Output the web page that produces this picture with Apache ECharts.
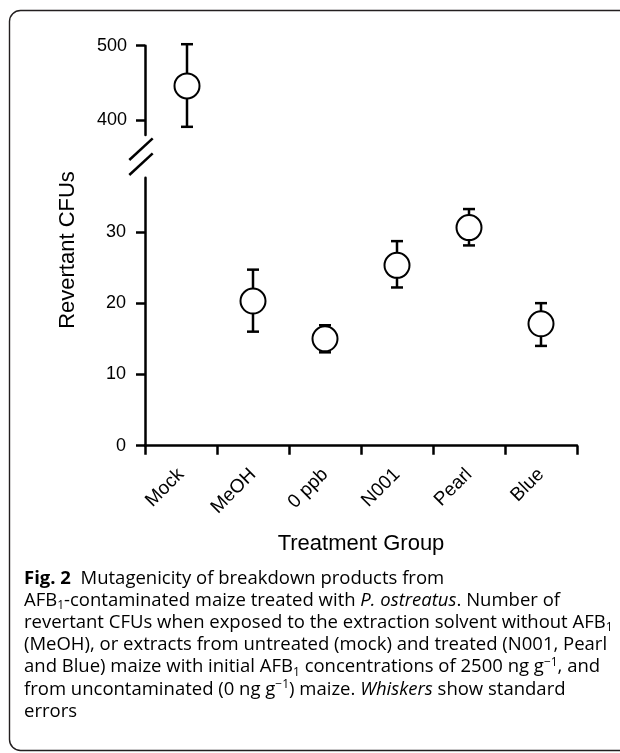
<!DOCTYPE html>
<html>
<head>
<meta charset="utf-8">
<script src="https://cdn.jsdelivr.net/npm/echarts@6/dist/echarts.min.js"></script>
<style>
html,body{margin:0;padding:0;background:#fff;}
#chart{width:620px;height:753px;}
</style>
</head>
<body>
<div id="chart"></div>
<script>
// ---- data ----
var categories = ['Mock', 'MeOH', '0 ppb', 'N001', 'Pearl', 'Blue'];
var means      = [446, 20.3, 15.0, 25.3, 30.6, 17.1];
var whiskerLow = [391, 16.0, 13.1, 22.2, 28.1, 14.0];
var whiskerHigh= [502, 24.7, 16.9, 28.7, 33.2, 20.0];
var lowerTicks = [0, 10, 20, 30];
var upperTicks = [400, 500];
var lowerMax = 37.6;
var upperMin = 380, upperMax = 500;

function panelData(isUpper) {
  return categories.map(function (c, i) {
    var inUpper = means[i] > lowerMax;
    return (inUpper === isUpper) ? [i, means[i]] : [i, '-'];
  });
}
function barData(isUpper) {
  return categories.map(function (c, i) {
    var inUpper = means[i] > lowerMax;
    return (inUpper === isUpper) ? [i, whiskerLow[i], whiskerHigh[i]] : [i, '-', '-'];
  });
}

var AX = '"Liberation Sans", Arial, sans-serif';
var CAP = '"Open Sans", "Noto Sans", sans-serif';

function renderBar(params, api) {
  var lo = api.value(1), hi = api.value(2);
  if (isNaN(lo) || isNaN(hi)) return;
  var p1 = api.coord([api.value(0), lo]);
  var p2 = api.coord([api.value(0), hi]);
  var hw = 6;
  var st = { stroke: '#000', lineWidth: 2.5 };
  return {
    type: 'group',
    children: [
      { type: 'line', shape: { x1: p1[0], y1: p1[1], x2: p2[0], y2: p2[1] }, style: st },
      { type: 'line', shape: { x1: p1[0] - hw, y1: p1[1], x2: p1[0] + hw, y2: p1[1] }, style: st },
      { type: 'line', shape: { x1: p2[0] - hw, y1: p2[1], x2: p2[0] + hw, y2: p2[1] }, style: st }
    ]
  };
}

var axisLineStyle = { color: '#000', width: 2.5 };

var FS = 18.5;
var capStyles = {
  n: { fontFamily: CAP, fontSize: FS, color: '#231f20', lineHeight: 22 },
  b: { fontFamily: CAP, fontSize: FS, color: '#231f20', lineHeight: 22, fontWeight: 'bold' },
  i: { fontFamily: CAP, fontSize: FS, color: '#231f20', lineHeight: 22, fontStyle: 'italic' },
  sub: { fontFamily: CAP, fontSize: 12, color: '#231f20', lineHeight: 11, verticalAlign: 'bottom' },
  sup: { fontFamily: CAP, fontSize: 12, color: '#231f20', lineHeight: 11, verticalAlign: 'top' }
};
var captionLines = [
  '{b|Fig. 2}{n|  Mutagenicity of breakdown products from}',
  '{n|AFB}{sub|1}{n|-contaminated maize treated with }{i|P. ostreatus}{n|. Number of}',
  '{n|revertant CFUs when exposed to the extraction solvent without AFB}{sub|1}',
  '{n|(MeOH), or extracts from untreated (mock) and treated (N001, Pearl}',
  '{n|and Blue) maize with initial AFB}{sub|1}{n| concentrations of 2500 ng g}{sup|\u22121}{n|, and}',
  '{n|from uncontaminated (0 ng g}{sup|\u22121}{n|) maize. }{i|Whiskers}{n| show standard}',
  '{n|errors}'
];

var graphics = [
  { type: 'rect', shape: { x: 9.5, y: 10.5, width: 720, height: 740, r: 11 },
    style: { fill: 'none', stroke: '#231f20', lineWidth: 1.4 }, z: 0 },
  { type: 'line', shape: { x1: 129.3, y1: 160, x2: 152.7, y2: 138.3 }, style: { stroke: '#000', lineWidth: 2.5 } },
  { type: 'line', shape: { x1: 129.3, y1: 175, x2: 152.7, y2: 153.3 }, style: { stroke: '#000', lineWidth: 2.5 } },
  { type: 'text', x: 67.5, y: 250, rotation: Math.PI / 2,
    style: { text: 'Revertant CFUs', fontFamily: AX, fontSize: 22, fill: '#000', align: 'center', verticalAlign: 'middle' } }
];
captionLines.forEach(function (t, k) {
  graphics.push({ type: 'text', x: 24, y: 578.3 + k * 22.2,
    style: { text: t, rich: capStyles, align: 'left', verticalAlign: 'middle' } });
});

var option = {
  animation: false,
  backgroundColor: '#fff',
  grid: [
    { left: 151, top: 45.7, width: 432, height: 89.3 },
    { left: 145, top: 177.7, width: 432, height: 268 }
  ],
  xAxis: [
    { gridIndex: 0, type: 'category', data: categories, show: false, boundaryGap: true },
    { gridIndex: 1, type: 'category', data: categories, boundaryGap: true,
      axisLine: { lineStyle: axisLineStyle },
      axisTick: { show: true, interval: 0, length: 9, lineStyle: { color: '#000', width: 2.5 } },
      axisLabel: { interval: 0, rotate: 45, margin: 26, color: '#000', fontFamily: AX, fontSize: 19 },
      name: 'Treatment Group', nameLocation: 'middle', nameGap: 87,
      nameTextStyle: { color: '#000', fontFamily: AX, fontSize: 22 } }
  ],
  yAxis: [
    { gridIndex: 0, type: 'value', min: upperMin, max: upperMax, offset: 6,
      splitLine: { show: false },
      axisLine: { show: true, lineStyle: axisLineStyle },
      axisTick: { show: true, length: 9, customValues: upperTicks, lineStyle: { color: '#000', width: 2.5 } },
      axisLabel: { customValues: upperTicks, margin: 18, color: '#000', fontFamily: AX, fontSize: 18 } },
    { gridIndex: 1, type: 'value', min: 0, max: lowerMax, interval: 10,
      splitLine: { show: false },
      axisLine: { show: true, lineStyle: axisLineStyle },
      axisTick: { show: true, length: 9, customValues: lowerTicks, lineStyle: { color: '#000', width: 2.5 } },
      axisLabel: { customValues: lowerTicks, margin: 19, color: '#000', fontFamily: AX, fontSize: 18 } }
  ],
  series: [
    { type: 'custom', xAxisIndex: 0, yAxisIndex: 0, renderItem: renderBar, data: barData(true), z: 2, clip: false },
    { type: 'custom', xAxisIndex: 1, yAxisIndex: 1, renderItem: renderBar, data: barData(false), z: 2, clip: false },
    { type: 'scatter', xAxisIndex: 0, yAxisIndex: 0, data: panelData(true), symbol: 'circle', symbolSize: 25, z: 3,
      itemStyle: { color: '#fff', borderColor: '#000', borderWidth: 2, opacity: 1 } },
    { type: 'scatter', xAxisIndex: 1, yAxisIndex: 1, data: panelData(false), symbol: 'circle', symbolSize: 25, z: 3,
      itemStyle: { color: '#fff', borderColor: '#000', borderWidth: 2, opacity: 1 } }
  ],
  graphic: graphics
};

var chart = echarts.init(document.getElementById('chart'), null, { renderer: 'canvas' });
chart.setOption(option);
</script>
</body>
</html>
